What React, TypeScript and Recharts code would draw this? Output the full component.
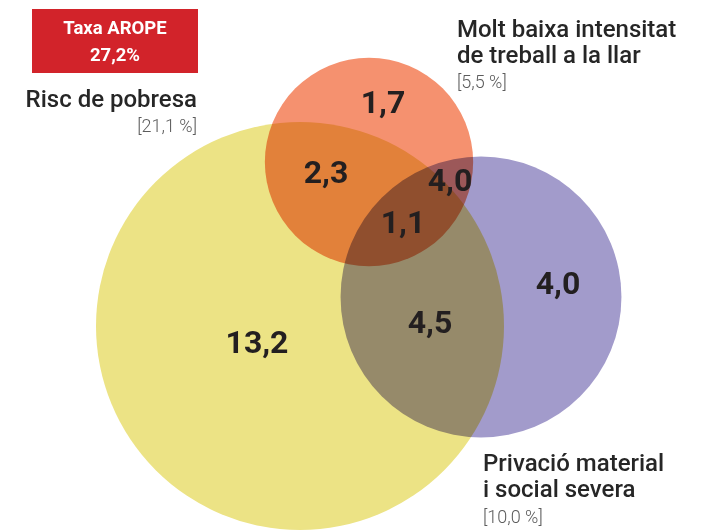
import { ScatterChart, Scatter, XAxis, YAxis, ZAxis } from "recharts";

// Venn of the AROPE components (percent of population)
const SET_NAMES = ["Risc de pobresa", "Molt baixa intensitat de treball a la llar", "Privació material i social severa"];
const SET_TOTALS = [21.1, 5.5, 10.0];
const SET_X = [300, 369, 481];
const SET_Y = [326, 162, 297];
const SET_COLORS = ["#ece385", "#f5916f", "#a29bcb"];

const REGION_VALUES = [13.2, 2.3, 1.7, 4.0, 1.1, 4.5, 4.0];
const REGION_X = [257, 326, 383, 450, 403, 430, 558];
const REGION_Y = [342, 172, 102, 180, 222, 322, 283];

const W = 718;
const H = 531;
const MAX_R = 204;

const sets = SET_NAMES.map((name, i) => ({
  name,
  x: SET_X[i],
  y: SET_Y[i],
  total: SET_TOTALS[i],
  color: SET_COLORS[i],
}));

const regions = REGION_VALUES.map((v, i) => ({
  x: REGION_X[i],
  y: REGION_Y[i],
  value: v,
}));

const fmt = (v: number) => v.toFixed(1).replace(".", ",");

const CircleShape = (props: any) => (
  <circle
    cx={props.cx}
    cy={props.cy}
    r={props.width / 2}
    fill={props.payload.color}
    style={{ mixBlendMode: "multiply" }}
  />
);

const NumberShape = (props: any) => (
  <text
    x={props.cx}
    y={props.cy}
    textAnchor="middle"
    dominantBaseline="central"
    fontFamily="Roboto"
    fontWeight={700}
    fontSize={32}
    fill="#231f20"
  >
    {fmt(props.payload.value)}
  </text>
);

const heading = { fontFamily: "Roboto", fontWeight: 500, fontSize: 24, fill: "#262626" };
const bracket = { fontFamily: "Roboto", fontWeight: 300, fontSize: 18, fill: "#5c5c5c" };

export default function App() {
  return (
    <div style={{ position: "relative", width: W, height: H, background: "#fff" }}>
      <style>{`body{margin:0}`}</style>
      <ScatterChart width={W} height={H} margin={{ top: 0, right: 0, bottom: 0, left: 0 }}>
        <XAxis type="number" dataKey="x" domain={[0, W]} hide />
        <YAxis type="number" dataKey="y" domain={[0, H]} reversed hide />
        <ZAxis type="number" dataKey="total" domain={[0, SET_TOTALS[0]]} range={[0, Math.PI * MAX_R * MAX_R]} />
        <Scatter data={sets} shape={CircleShape} isAnimationActive={false} />
        <Scatter data={regions} shape={NumberShape} isAnimationActive={false} />
      </ScatterChart>

      <svg width={W} height={H} style={{ position: "absolute", left: 0, top: 0, pointerEvents: "none" }}>
        {/* AROPE rate box */}
        <rect x={32} y={9} width={166} height={64} fill="#d2232a" />
        <text x={115} y={34} textAnchor="middle" fontFamily="Roboto" fontWeight={700} fontSize={18.5} fill="#fff">
          Taxa AROPE
        </text>
        <text x={115} y={61} textAnchor="middle" fontFamily="Roboto" fontWeight={700} fontSize={18.5} fill="#fff">
          27,2%
        </text>

        <text x={197} y={107} textAnchor="end" {...heading}>Risc de pobresa</text>
        <text x={197} y={132} textAnchor="end" {...bracket}>[21,1 %]</text>

        <text x={457} y={37} {...heading}>Molt baixa intensitat</text>
        <text x={457} y={63} {...heading}>de treball a la llar</text>
        <text x={457} y={88} {...bracket}>[5,5 %]</text>

        <text x={483} y={471} {...heading}>Privació material</text>
        <text x={483} y={497} {...heading}>i social severa</text>
        <text x={483} y={523} {...bracket}>[10,0 %]</text>
      </svg>
    </div>
  );
}
